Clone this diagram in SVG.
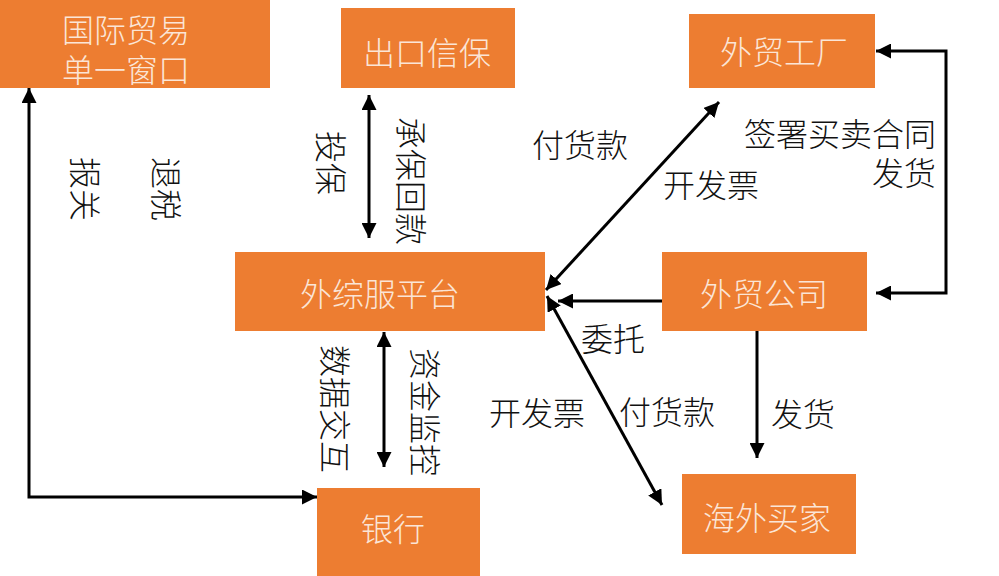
<svg xmlns="http://www.w3.org/2000/svg" width="999" height="576" viewBox="0 0 999 576">
<style>
.box{fill:#ED7D31}
.nt{fill:#FBE5D6;font-family:"Noto Sans CJK SC","Noto Sans",sans-serif;font-size:32px;font-weight:300;text-anchor:middle;dominant-baseline:central}
.lb{fill:#111;font-family:"Noto Sans CJK SC","Noto Sans",sans-serif;font-size:32px;font-weight:300;text-anchor:middle;dominant-baseline:central}
.ln{fill:none;stroke:#000;stroke-width:3}
</style>
<defs>
<marker id="ah" markerUnits="userSpaceOnUse" markerWidth="15" markerHeight="15" viewBox="0 0 15 15" refX="15" refY="7.5" orient="auto-start-reverse">
<path d="M0,0 L15,7.5 L0,15 z" fill="#000"/>
</marker>
</defs>
<rect width="999" height="576" fill="#fff"/>
<g id="n-window"><rect class="box" x="0" y="0" width="270" height="88"/><text class="nt"><tspan x="126" y="28">国际贸易</tspan><tspan x="126" y="68">单一窗口</tspan></text></g>
<g id="n-insure"><rect class="box" x="341" y="8" width="174" height="80"/><text class="nt" x="427" y="51">出口信保</text></g>
<g id="n-factory"><rect class="box" x="689" y="14" width="186" height="74"/><text class="nt" x="784" y="50">外贸工厂</text></g>
<g id="n-platform"><rect class="box" x="235" y="252" width="310" height="79"/><text class="nt" x="380" y="292">外综服平台</text></g>
<g id="n-company"><rect class="box" x="662" y="252" width="205" height="79"/><text class="nt" x="764" y="292">外贸公司</text></g>
<g id="n-bank"><rect class="box" x="317" y="488" width="163" height="88"/><text class="nt" x="393" y="527">银行</text></g>
<g id="n-buyer"><rect class="box" x="682" y="474" width="174" height="80"/><text class="nt" x="767" y="516">海外买家</text></g>
<g id="connectors">
<path class="ln" d="M29,88 V497 H317" marker-start="url(#ah)" marker-end="url(#ah)"/>
<path class="ln" d="M369,95 V238" marker-start="url(#ah)" marker-end="url(#ah)"/>
<path class="ln" d="M384,332 V467" marker-start="url(#ah)" marker-end="url(#ah)"/>
<path class="ln" d="M546,290 L719,102" marker-start="url(#ah)" marker-end="url(#ah)"/>
<path class="ln" d="M547,296 L662,505" marker-start="url(#ah)" marker-end="url(#ah)"/>
<path class="ln" d="M662,301 H558" marker-end="url(#ah)"/>
<path class="ln" d="M757,331 V458" marker-end="url(#ah)"/>
<path class="ln" d="M876,51 H946 V293 H876" marker-start="url(#ah)" marker-end="url(#ah)"/>
</g>
<g id="labels">
<text class="lb" transform="translate(87,189) rotate(90)">报关</text>
<text class="lb" transform="translate(168,189) rotate(90)">退税</text>
<text class="lb" transform="translate(333,163) rotate(90)">投保</text>
<text class="lb" transform="translate(413,181) rotate(90)">承保回款</text>
<text class="lb" transform="translate(337,409) rotate(90)">数据交互</text>
<text class="lb" transform="translate(427,412) rotate(90)">资金监控</text>
<text class="lb" x="580" y="143">付货款</text>
<text class="lb" x="711" y="183">开发票</text>
<text class="lb" style="text-anchor:end"><tspan x="936" y="132">签署买卖合同</tspan><tspan x="936" y="171">发货</tspan></text>
<text class="lb" x="613" y="337">委托</text>
<text class="lb" x="537" y="411">开发票</text>
<text class="lb" x="667" y="410">付货款</text>
<text class="lb" x="803" y="412">发货</text>
</g>
</svg>
